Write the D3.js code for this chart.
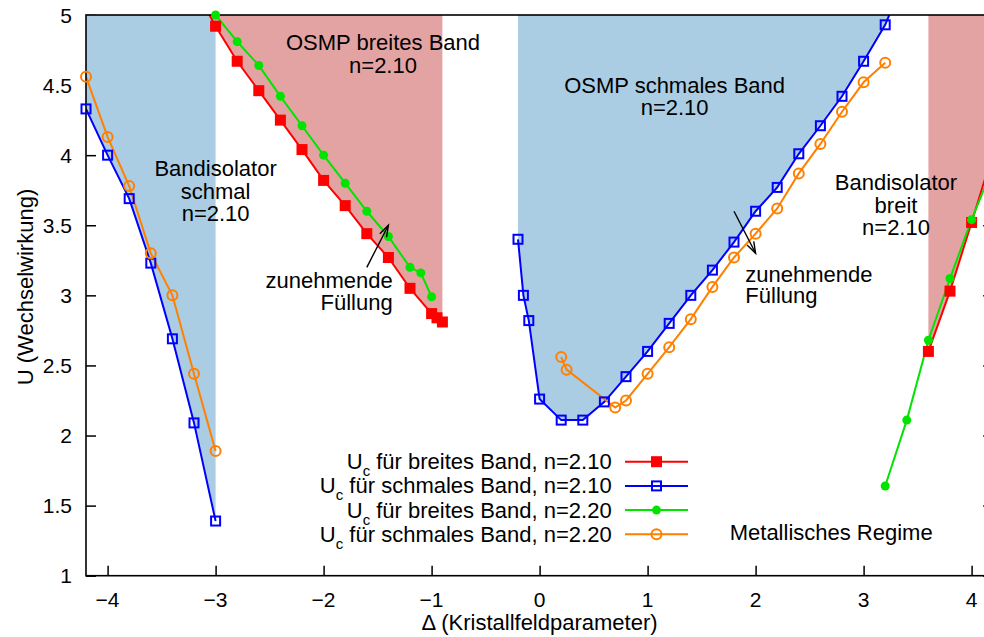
<!DOCTYPE html>
<html>
<head>
<meta charset="utf-8">
<script src="https://cdn.jsdelivr.net/npm/d3@7"></script>
<style>
  html, body { margin: 0; padding: 0; background: #fff; }
  svg { display: block; font-family: "Liberation Sans", Arial, Helvetica, sans-serif; }
</style>
</head>
<body>
<svg id="chart" width="984" height="637"></svg>
<script>
// Kritische Wechselwirkung U_c gegen Kristallfeldparameter Δ
const xTicks = [-4, -3, -2, -1, 0, 1, 2, 3, 4];
const yTicks = [1, 1.5, 2, 2.5, 3, 3.5, 4, 4.5, 5];

// U_c für breites Band, n=2.10
const redLeftX  = [-3.2, -3.0, -2.8, -2.6, -2.4, -2.2, -2.0, -1.8, -1.6, -1.4, -1.2, -1.0, -0.95, -0.9];
const redLeftU  = [5.20, 4.92, 4.67, 4.46, 4.25, 4.04, 3.82, 3.64, 3.44, 3.27, 3.05, 2.87, 2.84, 2.81];
const redRightX = [3.6, 3.8, 4.0, 4.2];
const redRightU = [2.60, 3.03, 3.52, 4.02];

// U_c für schmales Band, n=2.10
const blueLeftX = [-4.2, -4.0, -3.8, -3.6, -3.4, -3.2, -3.0];
const blueLeftU = [4.33, 4.00, 3.69, 3.23, 2.69, 2.09, 1.39];
const blueMidX  = [-0.2, -0.15, -0.1, 0.0, 0.2, 0.4, 0.6, 0.8, 1.0, 1.2, 1.4, 1.6, 1.8, 2.0, 2.2, 2.4, 2.6, 2.8, 3.0, 3.2, 3.4];
const blueMidU  = [3.40, 3.00, 2.82, 2.26, 2.11, 2.11, 2.24, 2.42, 2.60, 2.80, 3.00, 3.18, 3.38, 3.60, 3.77, 4.01, 4.21, 4.42, 4.67, 4.93, 5.30];

// U_c für breites Band, n=2.20
const greenLeftX  = [-3.0, -2.8, -2.6, -2.4, -2.2, -2.0, -1.8, -1.6, -1.4, -1.2, -1.1, -1.0];
const greenLeftU  = [5.00, 4.81, 4.64, 4.42, 4.21, 4.00, 3.80, 3.60, 3.42, 3.20, 3.16, 2.99];
const greenRightX = [3.2, 3.4, 3.6, 3.8, 4.0, 4.2];
const greenRightU = [1.64, 2.11, 2.68, 3.12, 3.54, 3.92];

// U_c für schmales Band, n=2.20
const orangeLeftX = [-4.2, -4.0, -3.8, -3.6, -3.4, -3.2, -3.0];
const orangeLeftU = [4.56, 4.13, 3.78, 3.30, 3.00, 2.44, 1.89];
const orangeMidX  = [0.2, 0.25, 0.7, 0.8, 1.0, 1.2, 1.4, 1.6, 1.8, 2.0, 2.2, 2.4, 2.6, 2.8, 3.0, 3.2];
const orangeMidU  = [2.56, 2.47, 2.20, 2.25, 2.44, 2.63, 2.83, 3.06, 3.27, 3.44, 3.62, 3.87, 4.08, 4.31, 4.52, 4.66];

const legendLabels = [
  " für breites Band, n=2.10",
  " für schmales Band, n=2.10",
  " für breites Band, n=2.20",
  " für schmales Band, n=2.20"
];

const zip = (xs, us) => xs.map((x, i) => [x, us[i]]);

const COL = { red: "#ff0000", blue: "#0000ff", green: "#00e400", orange: "#ff8000" };
const FILL = { blue: "#abcde3", red: "#e3a3a3" };

const series = [
  { key: "red",    color: COL.red,    marker: "sqFill",  branches: [zip(redLeftX, redLeftU), zip(redRightX, redRightU)] },
  { key: "blue",   color: COL.blue,   marker: "sqOpen",  branches: [zip(blueLeftX, blueLeftU), zip(blueMidX, blueMidU)] },
  { key: "green",  color: COL.green,  marker: "cirFill", branches: [zip(greenLeftX, greenLeftU), zip(greenRightX, greenRightU)] },
  { key: "orange", color: COL.orange, marker: "cirOpen", branches: [zip(orangeLeftX, orangeLeftU), zip(orangeMidX, orangeMidU)] }
];

// Phasenbereiche: Fläche zwischen Grenzkurve und oberem Rand
const regions = [
  { pts: zip(blueLeftX, blueLeftU), fill: FILL.blue },
  { pts: zip(redLeftX, redLeftU),   fill: FILL.red },
  { pts: zip(blueMidX, blueMidU),   fill: FILL.blue },
  { pts: zip(redRightX, redRightU), fill: FILL.red }
];

const svg = d3.select("#chart");
const margin = { left: 86, top: 15, bottom: 575.7 };
const x = d3.scaleLinear().domain([-4.2, 4.2]).range([margin.left, margin.left + 8.4 * 108]);
const y = d3.scaleLinear().domain([1, 5]).range([margin.bottom, margin.top]);
const [x0, x1] = x.range();
const [y0, y1] = y.range();

svg.append("defs").append("clipPath").attr("id", "plotClip")
  .append("rect").attr("x", x0).attr("y", y1).attr("width", x1 - x0).attr("height", y0 - y1);

const fmt = d3.format("~g");
const TICK = 10;

// Achsen: Teilstriche innen, gespiegelt
svg.append("g").attr("transform", `translate(0,${y0})`)
  .call(d3.axisBottom(x).tickValues(xTicks).tickSize(-TICK).tickFormat(""))
  .call(g => g.select(".domain").remove());
svg.append("g").attr("transform", `translate(0,${y1})`)
  .call(d3.axisTop(x).tickValues(xTicks).tickSize(-TICK).tickFormat(""))
  .call(g => g.select(".domain").remove());
svg.append("g").attr("transform", `translate(${x0},0)`)
  .call(d3.axisLeft(y).tickValues(yTicks).tickSize(-TICK).tickFormat(""))
  .call(g => g.select(".domain").remove());
svg.append("g").attr("transform", `translate(${x1},0)`)
  .call(d3.axisRight(y).tickValues(yTicks).tickSize(-TICK).tickFormat(""))
  .call(g => g.select(".domain").remove());
svg.selectAll(".tick line").attr("stroke", "#000").attr("stroke-width", 1.5);

// Flächen
const plot = svg.append("g").attr("clip-path", "url(#plotClip)");
const area = d3.line().x(d => x(d[0])).y(d => y(d[1]));
regions.forEach(r => {
  const first = r.pts[0], last = r.pts[r.pts.length - 1];
  const poly = r.pts.concat([[last[0], 5.5], [first[0], 5.5]]);
  plot.append("path").attr("d", area(poly) + "Z").attr("fill", r.fill).attr("stroke", "none");
});

// Rahmen
svg.append("rect").attr("x", x0).attr("y", y1).attr("width", x1 - x0).attr("height", y0 - y1)
  .attr("fill", "none").attr("stroke", "#000").attr("stroke-width", 1.6);

// Tick-Beschriftungen
svg.append("g").selectAll("text").data(xTicks).join("text")
  .attr("x", d => x(d)).attr("y", 607).attr("text-anchor", "middle")
  .attr("font-size", 21).text(d => fmt(d));
svg.append("g").selectAll("text").data(yTicks).join("text")
  .attr("x", x0 - 14).attr("y", d => y(d) + 7.5).attr("text-anchor", "end")
  .attr("font-size", 21).text(d => fmt(d));

// Achsentitel
svg.append("text").attr("x", x(0)).attr("y", 630).attr("text-anchor", "middle")
  .attr("font-size", 22).text("Δ (Kristallfeldparameter)");
svg.append("text").attr("transform", "translate(33,287) rotate(-90)").attr("text-anchor", "middle")
  .attr("font-size", 22).text("U (Wechselwirkung)");

// Kurven
const line = d3.line().x(d => x(d[0])).y(d => y(d[1]));
series.forEach(s => {
  s.branches.forEach(b => {
    plot.append("path").attr("d", line(b)).attr("fill", "none")
      .attr("stroke", s.color).attr("stroke-width", 2);
  });
});

// Symbole
function drawMarker(g, type, color, cx, cy) {
  if (type === "sqFill") {
    g.append("rect").attr("x", cx - 5.5).attr("y", cy - 5.5).attr("width", 11).attr("height", 11).attr("fill", color);
  } else if (type === "sqOpen") {
    g.append("rect").attr("x", cx - 4.5).attr("y", cy - 4.5).attr("width", 9).attr("height", 9)
      .attr("fill", "none").attr("stroke", color).attr("stroke-width", 2);
  } else if (type === "cirFill") {
    g.append("circle").attr("cx", cx).attr("cy", cy).attr("r", 4.5).attr("fill", color);
  } else {
    g.append("circle").attr("cx", cx).attr("cy", cy).attr("r", 5).attr("fill", "none")
      .attr("stroke", color).attr("stroke-width", 2);
  }
}
const markers = svg.append("g");
series.forEach(s => {
  s.branches.forEach(b => {
    b.filter(d => d[1] <= 5.001 && d[0] >= -4.2 && d[0] <= 4.2)
      .forEach(d => drawMarker(markers, s.marker, s.color, x(d[0]), y(d[1])));
  });
});

// Beschriftungen der Bereiche
function label(lines, xv, uv, anchor, dy) {
  const t = svg.append("text").attr("font-size", 22).attr("text-anchor", anchor);
  lines.forEach((l, i) => {
    t.append("tspan").attr("x", x(xv)).attr("y", y(uv) + i * dy).text(l);
  });
}
label(["OSMP breites Band", "n=2.10"], -1.45, 4.75, "middle", 23);
label(["OSMP schmales Band", "n=2.10"], 1.25, 4.44, "middle", 21.5);
label(["Bandisolator", "schmal", "n=2.10"], -3.0, 3.85, "middle", 22.5);
label(["Bandisolator", "breit", "n=2.10"], 3.3, 3.75, "middle", 22.5);
label(["zunehmende", "Füllung"], -1.36, 3.05, "end", 21.7);
label(["zunehmende", "Füllung"], 1.905, 3.097, "start", 21.7);
label(["Metallisches Regime"], 2.7, 1.255, "middle", 0);

// Pfeile
function arrow(xa, ua, xb, ub) {
  const ax = x(xa), ay = y(ua), bx = x(xb), by = y(ub);
  const ang = Math.atan2(by - ay, bx - ax);
  const L = 12, w = 0.32;
  const g = svg.append("g").attr("stroke", "#000").attr("stroke-width", 1.4).attr("fill", "none");
  g.append("line").attr("x1", ax).attr("y1", ay).attr("x2", bx).attr("y2", by);
  g.append("path").attr("d",
    `M${bx - L * Math.cos(ang - w)},${by - L * Math.sin(ang - w)}L${bx},${by}L${bx - L * Math.cos(ang + w)},${by - L * Math.sin(ang + w)}`);
}
arrow(-1.6, 3.2, -1.4, 3.5);
arrow(1.8, 3.6, 2.0, 3.3);

// Legende
const leg = svg.append("g");
series.forEach((s, i) => {
  const cy = 461.7 + i * 24.2;
  const t = leg.append("text").attr("x", 611.7).attr("y", cy + 7.5).attr("text-anchor", "end").attr("font-size", 22);
  t.append("tspan").text("U");
  t.append("tspan").attr("font-size", 15).attr("dy", 7).text("c");
  t.append("tspan").attr("dy", -7).text(legendLabels[i]);
  leg.append("line").attr("x1", 625).attr("x2", 688).attr("y1", cy).attr("y2", cy)
    .attr("stroke", s.color).attr("stroke-width", 2);
  drawMarker(leg, s.marker, s.color, 656.5, cy);
});
</script>
</body>
</html>
